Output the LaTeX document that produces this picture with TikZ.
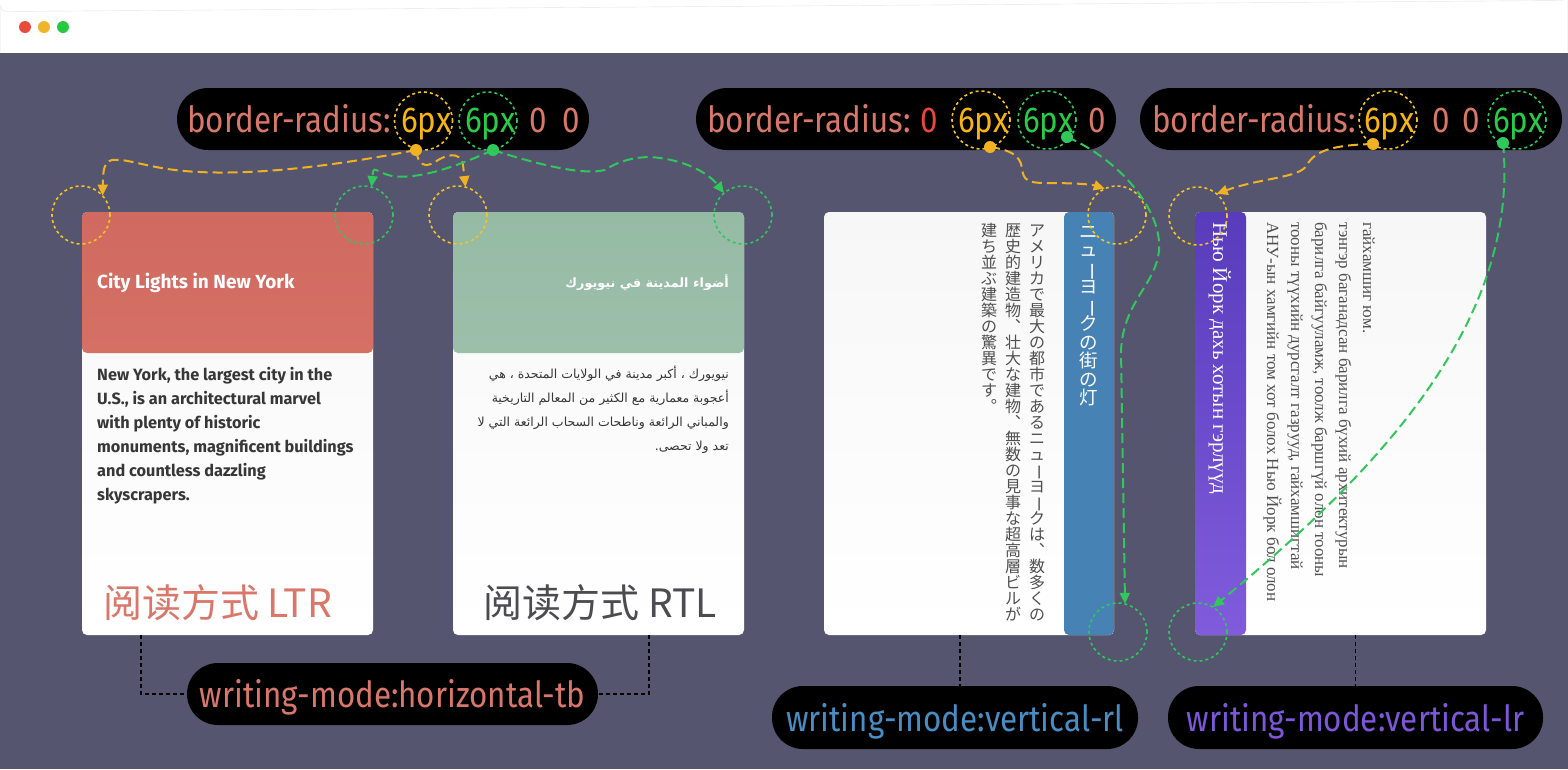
\documentclass[tikz,border=0pt]{standalone}
\usepackage{fontspec}
\usetikzlibrary{arrows.meta}
\TeXXeTstate=1
\setmainfont{Fira Sans}
\newfontfamily\lblfont[FakeStretch=0.87]{Fira Sans}
\newfontfamily\cjk{Noto Sans CJK SC}
\newfontfamily\jpv{Noto Sans CJK JP}
\newfontfamily\arabicfont[Script=Arabic]{DejaVu Sans}
\newfontfamily\mnfont{Liberation Serif}
\newdimen\vsz
\newcommand\vcol[2]{\vsz=#1\relax\vbox{\offinterlineskip\vcolloop#2\relax}}
\def\vbar{ー}\def\vcomma{、}\def\vstop{。}
\def\vcolloop#1{\ifx\relax#1\else\vcell{#1}\expandafter\vcolloop\fi}
\def\vplain#1{\hbox to\vsz{\hss\smash{#1}\hss\vrule height .88\vsz depth .12\vsz width 0pt}}
\def\vcell#1{\def\vtmp{#1}%
  \ifx\vtmp\vbar
    \vplain{\rotatebox[origin=c]{-90}{#1}}%
  \else\ifx\vtmp\vcomma
    \vplain{︑}%
  \else\ifx\vtmp\vstop
    \vplain{︒}%
  \else
    \vplain{#1}%
  \fi\fi\fi}
\definecolor{bgc}{RGB}{85,85,112}
\definecolor{salmon}{RGB}{217,119,106}
\definecolor{tokyellow}{RGB}{247,181,17}
\definecolor{tokgreen}{RGB}{40,204,70}
\definecolor{tokred}{RGB}{232,70,58}
\definecolor{ringyellow}{RGB}{245,196,30}
\definecolor{ringgreen}{RGB}{45,200,90}
\definecolor{arryellow}{RGB}{240,178,35}
\definecolor{arrgreen}{RGB}{48,200,90}
\definecolor{bluetxt}{RGB}{72,142,196}
\definecolor{purpletxt}{RGB}{125,86,217}
\definecolor{cAtop}{RGB}{208,106,96}
\definecolor{cAbot}{RGB}{223,124,112}
\definecolor{cBtop}{RGB}{150,187,165}
\definecolor{cBbot}{RGB}{168,199,180}
\definecolor{stripblue}{RGB}{70,130,180}
\definecolor{pTop}{RGB}{88,60,188}
\definecolor{pBot}{RGB}{128,92,220}
\definecolor{cardtop}{RGB}{247,247,247}
\definecolor{bodytxt}{RGB}{55,55,55}
\definecolor{cngray}{RGB}{75,75,80}
\definecolor{jptxt}{RGB}{80,80,80}
\definecolor{wred}{RGB}{230,75,60}
\definecolor{wyellow}{RGB}{240,180,40}
\definecolor{wgreen}{RGB}{40,200,64}
\begin{document}
\begin{tikzpicture}[x=1pt,y=-1pt,
  pill/.style={fill=black, rounded corners=31pt, inner sep=0pt, minimum height=62pt},
  tok/.style={anchor=base west, inner sep=0pt, font=\lblfont\fontsize{36}{40}\selectfont},
  btok/.style={anchor=base, inner sep=0pt, font=\lblfont\fontsize{36}{40}\selectfont},
  ring/.style={circle, minimum size=58pt, inner sep=0pt, outer sep=0pt, line width=1.6pt, dash pattern=on 3pt off 3pt},
  yring/.style={ring, draw=ringyellow},
  gring/.style={ring, draw=ringgreen},
  sdot/.style={circle, minimum size=12pt, inner sep=0pt, outer sep=0pt},
  yarr/.style={draw=arryellow, line width=2pt, dash pattern=on 10pt off 5pt, -{Triangle[length=11pt,width=10pt]}},
  garr/.style={draw=arrgreen, line width=2pt, dash pattern=on 10pt off 5pt, -{Triangle[length=11pt,width=10pt]}},
  card/.style={rectangle, rounded corners=5pt, inner sep=0pt, top color=cardtop, bottom color=white, minimum width=291pt, minimum height=423pt},
  bk/.style={draw=black, line width=1.5pt, dash pattern=on 4pt off 3pt},
  ctext/.style={anchor=base west, inner sep=0pt, text=bodytxt, font=\bfseries\fontsize{16.3}{19}\selectfont},
  atext/.style={anchor=base east, inner sep=0pt, text=bodytxt, font=\arabicfont\fontsize{12.5}{15}\selectfont},
  mtext/.style={rotate=-90, anchor=base west, inner sep=0pt, text=jptxt, font=\mnfont\fontsize{17}{19}\selectfont},
  wdot/.style={circle, minimum size=12pt, inner sep=0pt}
]
\useasboundingbox (0,0) rectangle (1568,769);
% window
\fill[white] (0,0) rectangle (1568,769);
\fill[bgc] (0,53) rectangle (1568,769);
\draw[black!10] (0.5,53) -- (0.5,6) arc[start angle=180, end angle=90, radius=5.5] -- (1562,0.5) arc[start angle=90, end angle=0, radius=5.5] -- (1567.5,53);
\node[wdot, fill=wred] (w1) at (25,27) {};
\node[wdot, fill=wyellow] (w2) at (44,27) {};
\node[wdot, fill=wgreen] (w3) at (63,27) {};

% cards
\node[card, path picture={\shade[top color=cAtop, bottom color=cAbot] (path picture bounding box.north west) rectangle ([yshift=-141pt]path picture bounding box.north east);}] (card1) at (227.5,423.5) {};
\node[card, path picture={\shade[top color=cBtop, bottom color=cBbot] (path picture bounding box.north west) rectangle ([yshift=-141pt]path picture bounding box.north east);}] (card2) at (598.5,423.5) {};
\node[card, minimum width=290pt, path picture={\fill[stripblue] ([xshift=-50pt]path picture bounding box.north east) rectangle (path picture bounding box.south east);}] (card3) at (969,423.5) {};
\node[card, path picture={\shade[top color=pTop, bottom color=pBot] (path picture bounding box.north west) rectangle ([xshift=51pt]path picture bounding box.south west);}] (card4) at (1340.5,423.5) {};

% card 1 text
\node[ctext, text=white, font=\bfseries\fontsize{19}{22}\selectfont] (t1h) at (97,288) {City Lights in New York};
\node[ctext] (t1a) at (97,380) {New York, the largest city in the};
\node[ctext] (t1b) at (97,404) {U.S., is an architectural marvel};
\node[ctext] (t1c) at (97,428) {with plenty of historic};
\node[ctext] (t1d) at (97,452) {monuments, magnificent buildings};
\node[ctext] (t1e) at (97,476) {and countless dazzling};
\node[ctext] (t1f) at (97,500) {skyscrapers.};
\node[anchor=base west, inner sep=0pt, text=salmon, font=\cjk\fontsize{39}{44}\selectfont] (t1z) at (103,617) {阅读方式 LTR};

% card 2 text
\node[atext, text=white, font=\arabicfont\bfseries\fontsize{12.8}{16}\selectfont] (t2h) at (729,287) {\beginR أضواء المدينة في نيويورك\endR};
\node[atext] (t2a) at (729,378) {\beginR نيويورك ، أكبر مدينة في الولايات المتحدة ، هي\endR};
\node[atext] (t2b) at (729,402) {\beginR أعجوبة معمارية مع الكثير من المعالم التاريخية\endR};
\node[atext] (t2c) at (729,426) {\beginR والمباني الرائعة وناطحات السحاب الرائعة التي لا\endR};
\node[atext] (t2d) at (729,450) {\beginR تعد ولا تحصى.\endR};
\node[anchor=base east, inner sep=0pt, text=cngray, font=\cjk\fontsize{39}{44}\selectfont] (t2z) at (717,617) {阅读方式 RTL};

% card 3 text (vertical-rl)
\node[anchor=north, inner sep=0pt, text=white, font=\jpv\fontsize{18.5}{18.5}\selectfont] (t3h) at (1089,222) {\vcol{18.5pt}{ニューヨークの街の灯}};
\node[anchor=north, inner sep=0pt, text=jptxt, font=\jpv\fontsize{16}{16}\selectfont] (t3a) at (1037,222) {\vcol{16pt}{アメリカで最大の都市であるニューヨークは、数多くの}};
\node[anchor=north, inner sep=0pt, text=jptxt, font=\jpv\fontsize{16}{16}\selectfont] (t3b) at (1013,222) {\vcol{16pt}{歴史的建造物、壮大な建物、無数の見事な超高層ビルが}};
\node[anchor=north, inner sep=0pt, text=jptxt, font=\jpv\fontsize{16}{16}\selectfont] (t3c) at (989,222) {\vcol{16pt}{建ち並ぶ建築の驚異です。}};

% card 4 text (vertical-lr)
\node[mtext, text=white, font=\mnfont\fontsize{21}{23}\selectfont] (t4h) at (1213,222) {Нью Йорк дахь хотын гэрлүүд};
\node[mtext] (t4a) at (1267,222) {АНУ-ын хамгийн том хот болох Нью Йорк бол олон};
\node[mtext] (t4b) at (1291,222) {тооны түүхийн дурсгалт газрууд, гайхамшигтай};
\node[mtext] (t4c) at (1315,222) {барилга байгууламж, тоолж баршгүй олон тооны};
\node[mtext] (t4d) at (1339,222) {тэнгэр баганадсан барилга бүхий архитектурын};
\node[mtext] (t4e) at (1363,222) {гайхамшиг юм.};

% top labels
\node[pill, minimum width=412pt] (lab1) at (383,119) {};
\node[tok, text=salmon] (l1a) at (187,132) {border-radius:};
\node[tok, text=tokyellow] (l1b) at (401,132) {6px};
\node[tok, text=tokgreen] (l1c) at (465,132) {6px};
\node[tok, text=salmon] (l1d) at (529,132) {0};
\node[tok, text=salmon] (l1e) at (562,132) {0};
\node[yring] (r1y) at (423.5,121) {};
\node[gring] (r1g) at (488,121) {};

\node[pill, minimum width=420pt] (lab2) at (906,119) {};
\node[tok, text=salmon] (l2a) at (707,132) {border-radius:};
\node[tok, text=tokred] (l2b) at (920,132) {0};
\node[tok, text=tokyellow] (l2c) at (958,132) {6px};
\node[tok, text=tokgreen] (l2d) at (1023,132) {6px};
\node[tok, text=salmon] (l2e) at (1088,132) {0};
\node[yring] (r2y) at (981,120) {};
\node[gring] (r2g) at (1047,120) {};

\node[pill, minimum width=422pt] (lab3) at (1351,119) {};
\node[tok, text=salmon] (l3a) at (1152,132) {border-radius:};
\node[tok, text=tokyellow] (l3b) at (1364,132) {6px};
\node[tok, text=salmon] (l3c) at (1432,132) {0};
\node[tok, text=salmon] (l3d) at (1462,132) {0};
\node[tok, text=tokgreen] (l3e) at (1493,132) {6px};
\node[yring] (r3y) at (1388,120) {};
\node[gring] (r3g) at (1517,120) {};

% bottom labels
\node[pill, minimum width=411pt] (lab4) at (392.5,694) {};
\node[btok, text=salmon] (l4t) at (392.5,707) {writing-mode:horizontal-tb};
\node[pill, minimum width=366pt, minimum height=63pt] (lab5) at (955,717.5) {};
\node[btok, text=bluetxt] (l5t) at (955,731) {writing-mode:vertical-rl};
\node[pill, minimum width=375pt, minimum height=63pt] (lab6) at (1355.5,717.5) {};
\node[btok, text=purpletxt] (l6t) at (1355.5,731) {writing-mode:vertical-lr};

\draw[bk] ([xshift=-86.5pt]card1.south) |- (lab4.west);
\draw[bk] ([xshift=50.5pt]card2.south) |- (lab4.east);
\draw[bk] ([xshift=-9pt]card3.south) -- ([xshift=5pt]lab5.north);
\draw[bk] (card4.south -| lab6.north) -- (lab6.north);

% corner rings
\node[yring] (c1y) at (81,215) {};
\node[gring] (c1g) at (364,215) {};
\node[yring] (c2y) at (458,215) {};
\node[gring] (c2g) at (743,215) {};
\node[yring] (c3y) at (1117,215) {};
\node[gring] (c3g) at (1118,632) {};
\node[yring] (c4y) at (1198,216) {};
\node[gring] (c4g) at (1198,632) {};

% dots
\node[sdot, fill=arryellow] (d1y) at (416,150) {};
\node[sdot, fill=arrgreen] (d1g) at (493,150) {};
\node[sdot, fill=arryellow] (d2y) at (990,147) {};
\node[sdot, fill=arrgreen] (d2g) at (1067,137) {};
\node[sdot, fill=arryellow] (d3y) at (1373,144) {};
\node[sdot, fill=arrgreen] (d3g) at (1503,143) {};

% connectors
\draw[yarr] (d1y.center) .. controls (340,165) and (260,175) .. (200,172) .. controls (150,170) and (130,158) .. (112,160) .. controls (104,162) and (103,170) .. (c1y.42);
\draw[yarr] (d1y.center) .. controls (418,165) and (425,168) .. (435,162) .. controls (445,155) and (460,150) .. (463,165) -- (c2y.75);
\draw[garr] (d1g.center) .. controls (460,165) and (420,180) .. (392,176) .. controls (378,173) and (374,166) .. (373,172) -- (c1g.75);
\draw[garr] (d1g.center) .. controls (530,162) and (580,176) .. (605,170) .. controls (620,160) and (640,155) .. (660,158) .. controls (690,162) and (710,175) .. (c2g.131);
\draw[yarr] (d2y.center) .. controls (1010,150) and (1020,155) .. (1022,168) .. controls (1023,180) and (1028,183) .. (1045,183) .. controls (1070,183) and (1090,184) .. (c3y.115);
\draw[garr] (d2g.center) .. controls (1120,160) and (1162,210) .. (1159,250) .. controls (1156,285) and (1124,300) .. (1121,350) -- (c3g.76);
\draw[yarr] (d3y.center) .. controls (1335,145) and (1315,150) .. (1307,165) .. controls (1300,178) and (1260,178) .. (c4y.50);
\draw[garr] (d3g.center) .. controls (1520,320) and (1380,470) .. (c4g.59);
\end{tikzpicture}
\end{document}
